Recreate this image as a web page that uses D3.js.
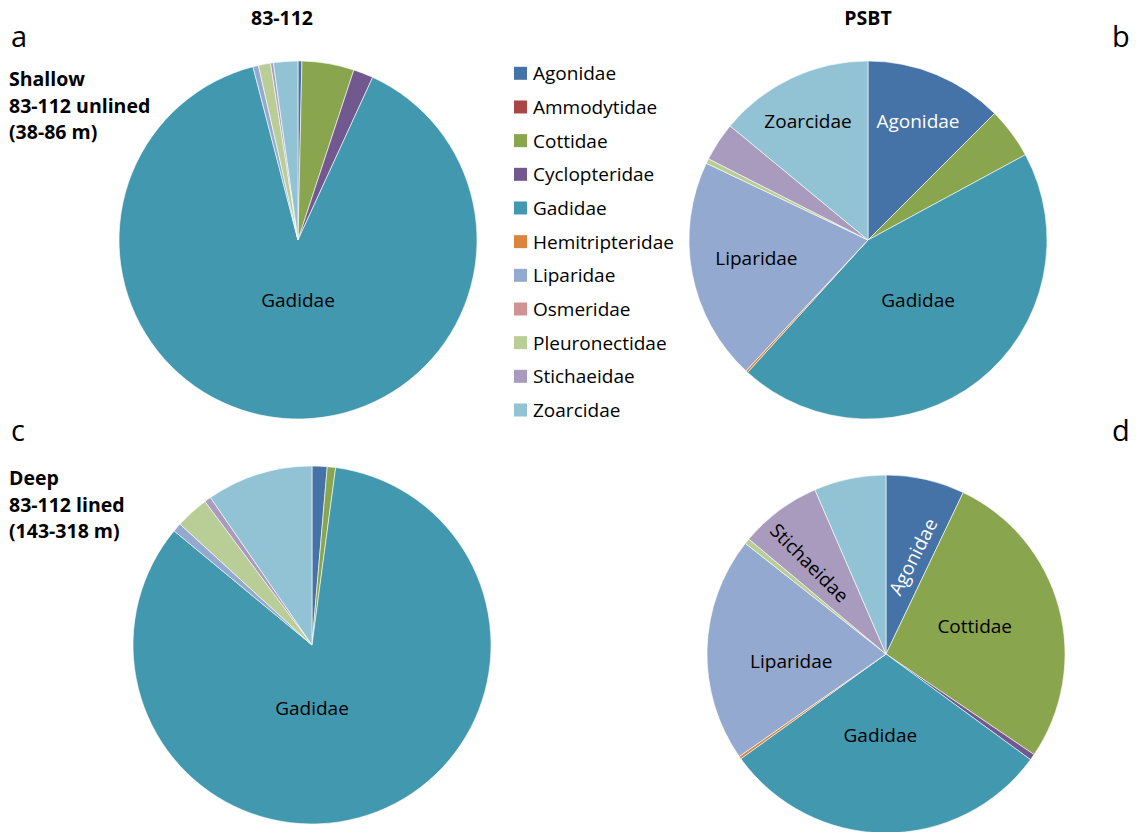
<!DOCTYPE html>
<html>
<head>
<meta charset="utf-8">
<script src="https://cdn.jsdelivr.net/npm/d3@7"></script>
<style>
  body { margin: 0; background: #fff; }
  svg { display: block; font-family: "Open Sans", "Noto Sans", sans-serif; }
  .title, .side { font-weight: bold; font-size: 19.5px; fill: #000; }
  .panel { font-size: 29px; fill: #000; }
  .legend text { font-size: 19px; fill: #000; }
  .slice-label { font-size: 19px; }
</style>
</head>
<body>
<svg id="chart" width="1138" height="832"></svg>
<script>
// DATA: families (slice order, clockwise from 12 o'clock) and % of catch
const families = ["Agonidae", "Ammodytidae", "Cottidae", "Cyclopteridae", "Gadidae",
  "Hemitripteridae", "Liparidae", "Osmeridae", "Pleuronectidae", "Stichaeidae", "Zoarcidae"];
const colors = ["#4572A7", "#AA4643", "#89A54E", "#71588F", "#4198AF",
  "#DB843D", "#93A9CF", "#D19392", "#B9CD96", "#A99BBD", "#92C3D4"];

const shallow83112 = [0.35, 0, 4.7, 1.8, 89.1, 0, 0.5, 0, 1.1, 0.25, 2.2];
const shallowPSBT  = [12.5, 0, 4.6, 0, 44.65, 0.2, 20.1, 0, 0.45, 3.5, 14.0];
const deep83112    = [1.36, 0, 0.75, 0, 83.9, 0, 0.8, 0, 3.0, 0.6, 9.6];
const deepPSBT     = [7.1, 0, 27.4, 0.55, 30.0, 0.25, 20.3, 0, 0.5, 7.4, 6.5];

const columnTitles = ["83-112", "PSBT"];
const panelLetters = ["a", "b", "c", "d"];
const shallowText = ["Shallow", "83-112 unlined", "(38-86 m)"];
const deepText = ["Deep", "83-112 lined", "(143-318 m)"];

// LAYOUT (positions only)
const radius = 179;
const pies = [
  { values: shallow83112, cx: 298, cy: 240 },
  { values: shallowPSBT,  cx: 868, cy: 240 },
  { values: deep83112,    cx: 312, cy: 645 },
  { values: deepPSBT,     cx: 886, cy: 654 }
];
// slice labels: pie index, family, polar position (deg from north, px), rotation
const sliceLabels = [
  { pie: 0, name: "Gadidae", ang: 180, dist: 60, rot: 0, fill: "#000" },
  { pie: 1, name: "Agonidae", ang: 22.8, dist: 129, rot: 0, fill: "#fff" },
  { pie: 1, name: "Zoarcidae", ang: -26.8, dist: 133, rot: 0, fill: "#000" },
  { pie: 1, name: "Liparidae", ang: 261, dist: 113, rot: 0, fill: "#000" },
  { pie: 1, name: "Gadidae", ang: 140, dist: 78, rot: 0, fill: "#000" },
  { pie: 2, name: "Gadidae", ang: 180, dist: 63, rot: 0, fill: "#000" },
  { pie: 3, name: "Agonidae", ang: 15.5, dist: 101, rot: -63, fill: "#fff" },
  { pie: 3, name: "Cottidae", ang: 72.5, dist: 93, rot: 0, fill: "#000" },
  { pie: 3, name: "Gadidae", ang: 184, dist: 81, rot: 0, fill: "#000" },
  { pie: 3, name: "Liparidae", ang: 266, dist: 95, rot: 0, fill: "#000" },
  { pie: 3, name: "Stichaeidae", ang: -40, dist: 119, rot: 45, fill: "#000" }
];

const svg = d3.select("#chart");
const color = d3.scaleOrdinal().domain(families).range(colors);

const pie = d3.pie().sort(null).value(d => d.value);
const arc = d3.arc().innerRadius(0).outerRadius(radius);

// DRAW PIES
pies.forEach(p => {
  const rows = families.map((f, i) => ({ family: f, value: p.values[i] }));
  const g = svg.append("g").attr("transform", `translate(${p.cx},${p.cy})`);
  g.selectAll("path")
    .data(pie(rows).filter(d => d.data.value > 0))
    .join("path")
    .attr("d", arc)
    .attr("fill", d => color(d.data.family))
    .attr("stroke", "#fff")
    .attr("stroke-width", 0.6);
});

// SLICE LABELS
sliceLabels.forEach(l => {
  const p = pies[l.pie];
  const a = l.ang * Math.PI / 180;
  const x = p.cx + l.dist * Math.sin(a);
  const y = p.cy - l.dist * Math.cos(a);
  svg.append("text")
    .attr("class", "slice-label")
    .attr("transform", `translate(${x},${y}) rotate(${l.rot})`)
    .attr("text-anchor", "middle")
    .attr("dominant-baseline", "central")
    .attr("fill", l.fill)
    .text(l.name);
});

// TITLES AND PANEL LETTERS
svg.append("text").attr("class", "title").attr("x", 282).attr("y", 25)
  .attr("text-anchor", "middle").text(columnTitles[0]);
svg.append("text").attr("class", "title").attr("x", 868).attr("y", 25)
  .attr("text-anchor", "middle").text(columnTitles[1]);

[[11, 47], [1112, 47], [11, 441], [1112, 441]].forEach((pos, i) => {
  svg.append("text").attr("class", "panel")
    .attr("x", pos[0]).attr("y", pos[1]).text(panelLetters[i]);
});

shallowText.forEach((t, i) => {
  svg.append("text").attr("class", "side").attr("x", 9).attr("y", 86 + i * 26.5).text(t);
});
deepText.forEach((t, i) => {
  svg.append("text").attr("class", "side").attr("x", 9).attr("y", 485 + i * 26.5).text(t);
});

// LEGEND
const legendY = d3.scalePoint().domain(families).range([73.3, 410]);
const legend = svg.append("g").attr("class", "legend");
const items = legend.selectAll("g").data(families).join("g")
  .attr("transform", d => `translate(514,${legendY(d)})`);
items.append("rect")
  .attr("x", 0).attr("y", -6.5).attr("width", 13).attr("height", 13)
  .attr("fill", d => color(d));
items.append("text")
  .attr("x", 19).attr("y", 0)
  .attr("dominant-baseline", "central")
  .text(d => d);
</script>
</body>
</html>
